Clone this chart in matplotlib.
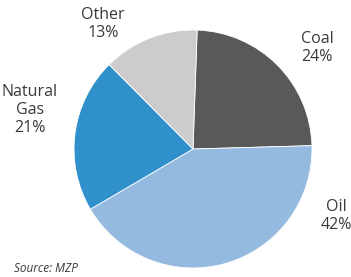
import matplotlib.pyplot as plt

labels = ["Coal", "Oil", "Natural\nGas", "Other"]
shares = [24, 42, 21, 13]
colors = ["#595959", "#95bae0", "#3090cb", "#cccccc"]

# label anchor points in pixels (x, y from top)
label_pos = [(317, 48), (336, 216), (30, 110), (103, 24)]

W, H = 351, 277
plt.rcParams["font.family"] = ["Open Sans", "DejaVu Sans"]

fig = plt.figure(figsize=(W / 100, H / 100), dpi=100)
ax = fig.add_axes([0, 0, 1, 1])

ax.pie(
    shares,
    colors=colors,
    startangle=88,
    counterclock=False,
    center=(193, H - 149),
    radius=119,
    wedgeprops=dict(edgecolor="white", linewidth=0.6),
)

for lab, val, (x, y) in zip(labels, shares, label_pos):
    ax.text(x, H - y, f"{lab}\n{val}%", ha="center", va="center",
            fontsize=11.5, color="#3a3a3a", linespacing=1.15)

ax.text(14, H - 268, "Source: MZP", ha="left", va="center",
        fontsize=8.5, style="italic", color="#3a3a3a")

ax.set_xlim(0, W)
ax.set_ylim(0, H)
ax.set_aspect("equal")
ax.axis("off")

fig.savefig("out.png", dpi=100)
